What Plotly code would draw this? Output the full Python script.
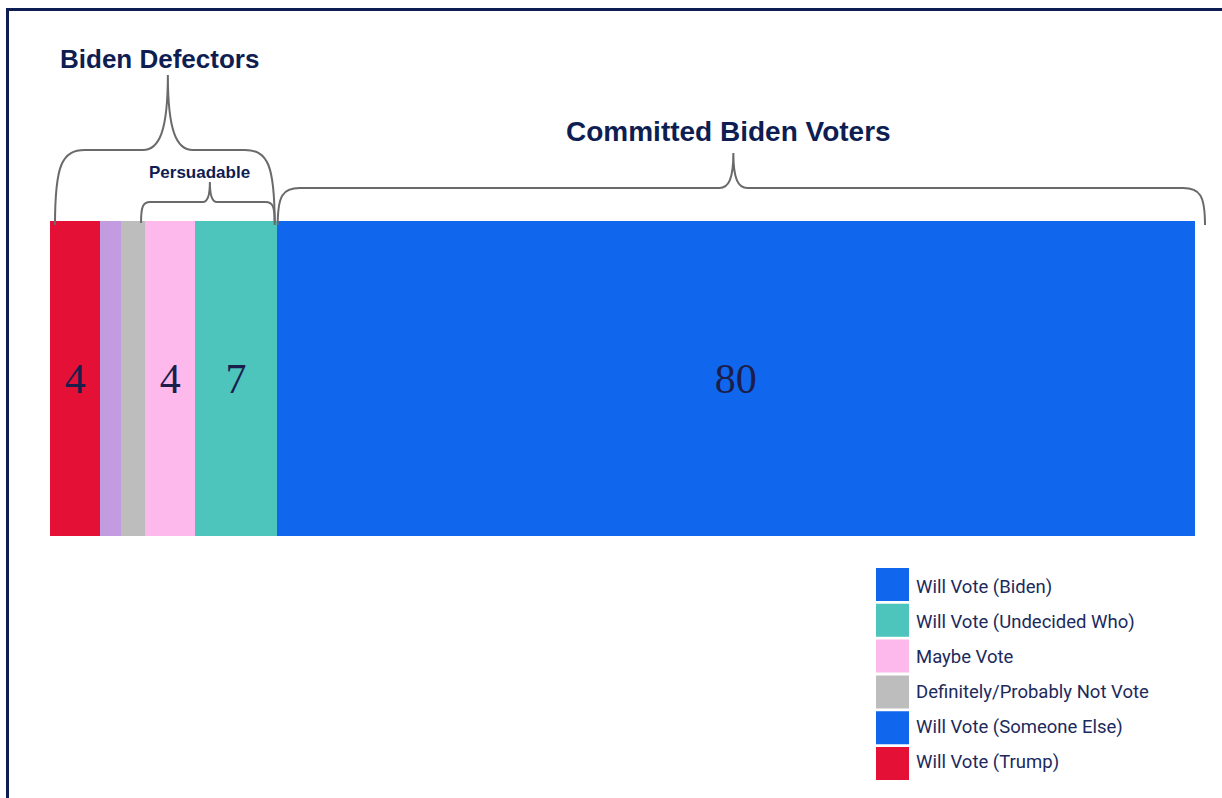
import plotly.graph_objects as go

# ---- data -------------------------------------------------------------
categories = [
    "Will Vote (Trump)",
    "Will Vote (Someone Else)",
    "Definitely/Probably Not Vote",
    "Maybe Vote",
    "Will Vote (Undecided Who)",
    "Will Vote (Biden)",
]
shares = [4.4, 1.8, 2.1, 4.4, 7.1, 80.2]          # % of 2020 Biden voters
bar_colors = ["#E41036", "#C29BE0", "#BDBDBD", "#FDB8EC", "#4DC5BD", "#1166EE"]
legend_colors = ["#E41036", "#1166EE", "#BDBDBD", "#FDB8EC", "#4DC5BD", "#1166EE"]
row_name = "2020 Biden voters"
min_labelled_share = 3

# brace groups: title, first segment, last segment
group_titles = ["Biden Defectors", "Persuadable", "Committed Biden Voters"]
group_first = [0, 3, 5]
group_last = [4, 4, 5]

# ---- layout constants (pixels) ---------------------------------------
W, H = 1222, 798
BAR_L, BAR_R = 50, 1195
BAR_T, BAR_B = 221, 536
NAVY = "#0E1D52"
TEXT_NAVY = "#1C2A5C"
BRACE_GREY = "#6A6A6A"

total = sum(shares)
x_max = total * (W - BAR_L) / (BAR_R - BAR_L)

# category axis: single bar of thickness 0.8 (bargap 0.2) centred on 0
unit = (BAR_B - BAR_T) / 0.8
centre = (BAR_T + BAR_B) / 2
y_range = [-(H - centre) / unit, centre / unit]


def px_of(x):
    return BAR_L + x * (BAR_R - BAR_L) / total


def pxx(px):
    return (px - BAR_L) / (W - BAR_L)


def pyy(py):
    return 1 - py / H


def brace_path(xl, xr, xm, y_end, y_h, y_p, r_end, r_peak):
    pts = [
        f"M{pxx(xl)},{pyy(y_end)}",
        f"C{pxx(xl)},{pyy(y_h + 0.2 * (y_end - y_h))} {pxx(xl + 0.23 * r_end)},{pyy(y_h)} {pxx(xl + r_end)},{pyy(y_h)}",
        f"L{pxx(xm - r_peak)},{pyy(y_h)}",
        f"C{pxx(xm - 0.35 * r_peak)},{pyy(y_h)} {pxx(xm)},{pyy(y_h - 0.25 * (y_h - y_p))} {pxx(xm)},{pyy(y_p)}",
        f"C{pxx(xm)},{pyy(y_h - 0.25 * (y_h - y_p))} {pxx(xm + 0.35 * r_peak)},{pyy(y_h)} {pxx(xm + r_peak)},{pyy(y_h)}",
        f"L{pxx(xr - r_end)},{pyy(y_h)}",
        f"C{pxx(xr - 0.23 * r_end)},{pyy(y_h)} {pxx(xr)},{pyy(y_h + 0.2 * (y_end - y_h))} {pxx(xr)},{pyy(y_end)}",
    ]
    return " ".join(pts)


fig = go.Figure()

for name, value, color in zip(categories, shares, bar_colors):
    fig.add_trace(go.Bar(
        y=[row_name], x=[value], orientation="h", name=name,
        marker=dict(color=color, line=dict(width=0)),
        text=[f"{value:.0f}" if value >= min_labelled_share else ""],
        textposition="inside", insidetextanchor="middle", textangle=0,
        textfont=dict(family="Liberation Serif", size=42, color="#1B1E4B"),
        hovertemplate=name + ": %{x:.1f}%<extra></extra>",
        showlegend=False,
    ))

# segment boundaries in pixels
bounds = [0]
for v in shares:
    bounds.append(bounds[-1] + v)
edges = [px_of(b) for b in bounds]

shapes = []
annotations = []

# brace geometry per group (pixel offsets / heights)
brace_style = [
    # dl, dr, peak_dx, y_end, y_h, y_peak, r_end, r_peak, title_y, title_size, title_dx
    (5, -2, 3, 225, 150, 75, 30, 25, 59, 26, -8),
    (-4, -2, 2, 223, 202, 182, 9, 7, 172, 17, -10),
    (1, 10, -8, 225, 188, 153, 22, 14, 131, 28, -5),
]
for title, a, b, st in zip(group_titles, group_first, group_last, brace_style):
    dl, dr, pdx, y_end, y_h, y_p, r_end, r_peak, ty, tsize, tdx = st
    xl = edges[a] + dl
    xr = edges[b + 1] + dr
    xm = (xl + xr) / 2 + pdx
    shapes.append(dict(
        type="path", xref="paper", yref="paper", layer="above",
        path=brace_path(xl, xr, xm, y_end, y_h, y_p, r_end, r_peak),
        line=dict(color=BRACE_GREY, width=2),
    ))
    annotations.append(dict(
        xref="paper", yref="paper", x=pxx(xm + tdx), y=pyy(ty),
        xanchor="center", yanchor="middle", showarrow=False,
        text=title,
        font=dict(family="Liberation Sans", size=tsize, color=NAVY, weight=700),
    ))

# custom legend (top entry = right-most segment)
LEG_X, LEG_Y, SW, PITCH = 876, 568, 33, 35.8
TXT_Y0, TXT_PITCH = 587, 35
for i, k in enumerate(reversed(range(len(categories)))):
    y0 = LEG_Y + i * PITCH
    shapes.append(dict(
        type="rect", xref="paper", yref="paper",
        x0=pxx(LEG_X), x1=pxx(LEG_X + SW), y0=pyy(y0 + SW), y1=pyy(y0),
        fillcolor=legend_colors[k], line=dict(width=0),
    ))
    annotations.append(dict(
        xref="paper", yref="paper", x=pxx(LEG_X + SW + 5),
        y=pyy(TXT_Y0 + i * TXT_PITCH),
        xanchor="left", yanchor="middle", showarrow=False,
        text=categories[k],
        font=dict(family="Roboto", size=18.5, color=TEXT_NAVY),
    ))

# frame lines along the top and left
shapes.append(dict(type="line", xref="paper", yref="paper",
                   x0=pxx(6), x1=pxx(W + 2), y0=pyy(9.5), y1=pyy(9.5),
                   line=dict(color=NAVY, width=3)))
shapes.append(dict(type="line", xref="paper", yref="paper",
                   x0=pxx(7.5), x1=pxx(7.5), y0=pyy(8), y1=pyy(H + 2),
                   line=dict(color=NAVY, width=3)))

fig.update_layout(
    width=W, height=H,
    margin=dict(l=BAR_L, r=0, t=0, b=0, autoexpand=False),
    barmode="stack", bargap=0.2,
    plot_bgcolor="white", paper_bgcolor="white",
    xaxis=dict(range=[0, x_max], visible=False, fixedrange=True),
    yaxis=dict(type="category", range=y_range, visible=False, fixedrange=True),
    shapes=shapes, annotations=annotations,
    showlegend=False,
    uniformtext=dict(mode=False),
)

fig.write_html("out.html")
